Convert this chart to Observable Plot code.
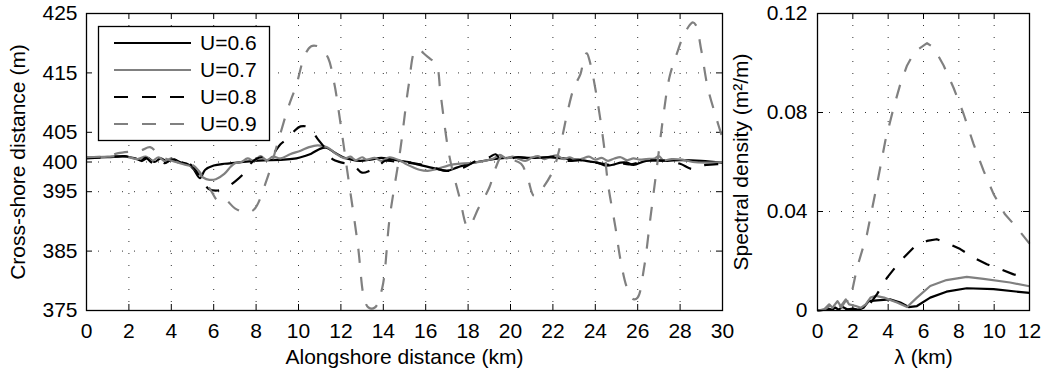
<!DOCTYPE html>
<html><head><meta charset="utf-8">
<script src="https://cdn.jsdelivr.net/npm/d3@7"></script>
<script src="https://cdn.jsdelivr.net/npm/@observablehq/plot@0.6"></script>
<style>
body{margin:0;background:#fff;}
#wrap{position:relative;width:1056px;height:373px;overflow:hidden;}
#wrap svg{position:absolute;top:0;}
</style></head><body><div id="wrap"></div>
<script>
// ---------- Left panel: shoreline position ----------
const seriesNames = ["U=0.6", "U=0.7", "U=0.8", "U=0.9"];
const xTicksLeft = [0,2,4,6,8,10,12,14,16,18,20,22,24,26,28,30];
const yTicksLeft = [375,385,395,400,405,415,425];

const km06 = [0,1,1.8,2.3,2.6,2.9,3.2,3.5,3.8,4.1,4.4,4.8,5.05,5.35,5.6,6.0,6.5,7.1,7.9,8.7,9.6,9.9,10.3,10.6,11.0,11.3,11.7,12.1,12.5,12.9,13.4,13.9,14.3,14.8,15.2,15.6,16.2,16.6,17.0,17.5,17.95,18.9,19.5,20.2,21.0,21.7,22.2,22.7,23.2,23.7,24.1,24.5,24.9,25.2,25.5,25.8,26.4,27.4,28.0,29.0,30];
const pos06 = [400.7,400.8,400.9,400.6,400.2,400.7,400.0,400.6,400.1,400.5,400.0,399.6,398.8,397.3,398.7,399.4,399.7,399.9,400.2,400.3,400.5,400.6,401.0,401.4,402.2,402.4,401.6,400.8,400.4,400.2,400.4,400.7,400.5,400.2,400.0,399.6,399.1,398.8,398.5,399.1,399.6,400.3,400.6,400.8,400.7,400.8,400.7,400.5,400.4,400.1,399.9,399.4,399.6,399.9,399.9,399.5,400.2,400.2,400.3,400.2,399.9];

const km07 = [0,1,1.5,2.0,2.4,2.8,3.1,3.4,3.7,4.0,4.3,4.7,5.0,5.2,5.5,5.8,6.1,6.5,6.8,7.0,7.3,7.6,7.9,8.2,8.5,8.8,9.15,9.6,10.1,10.5,10.9,11.35,11.8,12.2,12.45,12.7,13.0,13.2,13.6,13.9,14.3,14.8,15.1,15.4,15.7,16.1,16.5,17.3,18.3,19.2,19.5,19.8,20.1,20.4,20.7,21.0,21.3,21.6,21.9,22.2,22.5,22.8,23.1,23.4,23.7,24.0,24.3,24.6,24.9,25.2,25.5,25.8,26.1,26.4,26.8,27.0,27.2,27.6,28.1,28.6,29.2,30];
const pos07 = [400.8,400.9,401.0,400.8,400.5,400.9,400.2,400.8,400.1,400.6,399.9,399.5,399.2,398.4,397.4,397.0,397.1,398.0,399.2,399.8,400.0,400.6,400.2,401.0,400.3,400.9,400.6,401.3,401.9,402.5,402.8,402.5,401.3,400.6,400.9,400.3,400.8,400.4,400.7,400.2,400.8,400.2,399.6,399.1,398.7,398.5,398.8,399.6,399.9,400.6,401.2,400.6,400.9,400.5,400.2,400.7,401.0,400.5,400.9,401.1,400.5,400.8,400.3,400.6,400.9,400.4,400.7,400.2,400.6,400.8,400.3,400.6,400.4,400.5,400.6,401.0,400.3,400.5,400.4,400.0,399.9,400.0];

const km08 = [0,1,1.8,2.2,2.5,2.8,3.1,3.4,3.7,4.0,4.4,4.8,5.05,5.45,5.8,6.2,6.6,7.0,7.4,7.65,8.05,8.3,8.7,9.15,9.55,9.8,10.1,10.5,10.9,11.35,11.6,12.05,12.6,13.0,13.4,13.7,14.1,14.5,15.1,15.75,16.4,17.0,17.8,18.4,19.0,19.3,19.6,20.3,21.0,21.7,22.2,22.7,23.3,24.0,24.5,24.9,25.3,25.7,26.4,27.4,28.0,28.6,29.0,29.6,30];
const pos08 = [400.6,400.8,401.0,400.6,400.0,400.7,399.9,400.5,399.8,400.4,400.1,399.8,399.1,396.8,395.4,395.2,395.7,396.7,398.0,399.4,400.6,400.8,401.0,403.0,404.1,405.2,406.0,405.8,403.9,401.9,400.5,399.9,399.4,398.2,398.6,399.1,400.2,400.1,399.9,399.6,399.0,398.5,399.1,400.2,400.8,401.3,400.2,400.8,400.6,400.8,400.9,400.2,400.3,399.9,399.6,399.4,399.7,399.6,400.2,400.2,399.7,398.8,399.4,399.6,399.7];

const km09 = [0,1,1.5,2.2,2.6,3.0,3.5,4.2,5.0,5.3,5.9,6.2,6.5,7.0,7.5,7.9,8.5,9.0,9.5,9.9,10.3,10.6,10.9,11.1,11.4,11.7,11.9,12.3,12.8,13.1,13.3,13.6,13.95,14.3,14.8,15.2,15.5,15.7,15.9,16.2,16.5,16.7,17.1,17.6,18.0,18.5,19.0,19.3,19.6,20.0,20.5,20.8,21.1,21.3,21.5,22.0,22.4,22.7,23.0,23.3,23.5,23.6,23.75,24.1,24.4,24.6,24.95,25.2,25.5,25.8,26.0,26.3,26.6,26.9,27.2,27.5,27.9,28.2,28.6,28.75,29.0,29.3,29.7,30];
const pos09 = [400.8,401.0,401.5,401.8,402.0,402.5,401.0,400.0,399.5,398.5,395.0,393.5,393.8,392.2,391.5,392.0,397.0,403.0,409.0,413.0,418.0,419.5,419.5,419.0,417.5,413.0,408.5,398.5,386.0,377.0,375.5,375.5,378.8,390.6,402.0,413.0,418.8,419.0,418.3,417.4,416.5,411.5,401.3,394.0,389.0,392.3,395.7,399.0,401.0,400.5,399.7,397.4,394.3,394.6,395.5,398.5,403.6,408.6,412.6,414.8,417.9,418.3,416.8,410.3,403.0,396.3,389.0,383.3,378.8,376.9,377.2,382.2,390.6,399.0,407.5,414.3,418.8,421.6,423.5,423.0,418.8,412.6,407.5,404.0];

// ---------- Right panel: spectra ----------
const xTicksRight = [0,2,4,6,8,10,12];
const yTicksRight = [0,0.04,0.08,0.12];

const lam06 = [0,0.3,0.6,0.8,1.0,1.2,1.4,1.7,2.0,2.3,2.6,2.9,3.37,4.1,4.69,5.16,5.63,6.38,7.3,8.45,9.97,12];
const spec06 = [0,0.0002,0.0008,0.0002,0.0012,0.0003,0.0015,0.0004,0.0006,0.0002,0.0011,0.0038,0.0041,0.0045,0.0032,0.0014,0.0018,0.0052,0.0076,0.0090,0.0086,0.0071];

const lam07 = [0,0.38,0.66,0.85,1.13,1.32,1.6,1.79,2.17,2.45,2.73,3.0,3.3,3.77,4.5,5.07,5.63,6.38,7.3,8.45,9.4,10.9,12];
const spec07 = [0,0.0005,0.0025,0.0011,0.0038,0.0018,0.0045,0.0025,0.0018,0.0011,0.0025,0.0052,0.0059,0.0052,0.0032,0.0014,0.0052,0.0099,0.0123,0.0136,0.0128,0.0113,0.0098];

const lam08 = [0,0.5,1.0,1.5,2.0,2.3,2.6,3.0,3.37,3.94,4.69,5.44,6.2,6.75,7.3,8.08,8.83,9.59,10.34,11.1,12];
const spec08 = [0,0.0003,0.0006,0.0002,0.0008,0.0003,0.0005,0.0030,0.0066,0.0133,0.0200,0.0254,0.0281,0.0288,0.0274,0.0248,0.0214,0.0187,0.0167,0.0146,0.0131];

const lam09 = [0,0.4,0.7,0.9,1.15,1.35,1.6,1.8,1.96,2.24,2.8,3.37,3.84,4.31,4.69,5.07,5.54,5.75,6.2,6.57,7.14,7.7,8.27,8.83,9.4,9.97,10.6,11.28,12];
const spec09 = [0,0.0004,0.0020,0.0008,0.0030,0.0012,0.0040,0.0035,0.0079,0.0173,0.0308,0.0510,0.0686,0.0820,0.0915,0.0990,0.1050,0.1058,0.1080,0.1063,0.0990,0.0900,0.0794,0.0673,0.0565,0.0470,0.0390,0.0335,0.0270];

// ---------- styling ----------
const FONT = "'Liberation Sans', Arial, Helvetica, sans-serif";
const FS = 21;
const GRAY = "#808080";
const DASH = "14,14";
const LW = 2.2;
const seriesStyle = [
  {stroke: "#000", dash: null},
  {stroke: GRAY, dash: null},
  {stroke: "#000", dash: DASH},
  {stroke: GRAY, dash: DASH}
];

function rows(xs, ys) { return xs.map((x, i) => ({x, y: ys[i]})); }

const leftSeries = [rows(km06, pos06), rows(km07, pos07), rows(km08, pos08), rows(km09, pos09)];
const rightSeries = [rows(lam06, spec06), rows(lam07, spec07), rows(lam08, spec08), rows(lam09, spec09)];

function frameMarks(xTicks, yTicks, innerW, innerH, tick) {
  return [
    Plot.gridX(xTicks, {stroke: "#333", strokeOpacity: 1, strokeWidth: 1, strokeDasharray: "1,11"}),
    Plot.gridY(yTicks, {stroke: "#333", strokeOpacity: 1, strokeWidth: 1, strokeDasharray: "1,11"}),
    Plot.ruleX(xTicks, {stroke: "#000", strokeWidth: 1, insetTop: innerH - tick}),
    Plot.ruleX(xTicks, {stroke: "#000", strokeWidth: 1, insetBottom: innerH - tick}),
    Plot.ruleY(yTicks, {stroke: "#000", strokeWidth: 1, insetRight: innerW - tick}),
    Plot.ruleY(yTicks, {stroke: "#000", strokeWidth: 1, insetLeft: innerW - tick})
  ];
}

function lineMarks(series, curve) {
  return series.map((d, i) => Plot.line(d, {
    x: "x", y: "y", stroke: seriesStyle[i].stroke, strokeWidth: LW,
    strokeDasharray: seriesStyle[i].dash, curve, strokeLinejoin: "round", strokeLinecap: "butt"
  }));
}

const H = 373, MT = 13, MB = 63;
const innerH = H - MT - MB;

const leftW = 740, leftML = 86, leftMR = 18;
const left = Plot.plot({
  width: leftW, height: H, marginLeft: leftML, marginRight: leftMR, marginTop: MT, marginBottom: MB,
  style: {fontFamily: FONT, fontSize: FS + "px", color: "#000", background: "transparent", overflow: "visible"},
  x: {domain: [0, 30]},
  y: {domain: [375, 425]},
  marks: [
    ...frameMarks(xTicksLeft, yTicksLeft, leftW - leftML - leftMR, innerH, 6),
    ...lineMarks(leftSeries, "catmull-rom"),
    Plot.frame({stroke: "#000", strokeWidth: 1.3}),
    Plot.axisX(xTicksLeft, {tickSize: 0, tickPadding: 13, label: "Alongshore distance (km)", labelAnchor: "center", labelOffset: 53, labelArrow: "none"}),
    Plot.axisY(yTicksLeft, {tickSize: 0, tickPadding: 9, label: "Cross-shore distance (m)", labelAnchor: "center", labelOffset: 76, labelArrow: "none"})
  ]
});
left.style.left = "0px";

const rightLeft = 700, rightW = 356, rightML = 117, rightMR = 27;
const right = Plot.plot({
  width: rightW, height: H, marginLeft: rightML, marginRight: rightMR, marginTop: MT, marginBottom: MB,
  style: {fontFamily: FONT, fontSize: FS + "px", color: "#000", background: "transparent", overflow: "visible"},
  x: {domain: [0, 12]},
  y: {domain: [0, 0.12]},
  marks: [
    ...frameMarks(xTicksRight, yTicksRight, rightW - rightML - rightMR, innerH, 6),
    ...lineMarks(rightSeries, "linear"),
    Plot.frame({stroke: "#000", strokeWidth: 1.3}),
    Plot.axisX(xTicksRight, {tickSize: 0, tickPadding: 13, label: "λ (km)", labelAnchor: "center", labelOffset: 53, labelArrow: "none"}),
    Plot.axisY(yTicksRight, {tickSize: 0, tickPadding: 10, tickFormat: d => d === 0 ? "0" : d.toFixed(2), label: "Spectral density (m²/m)", labelAnchor: "center", labelOffset: 84, labelArrow: "none"})
  ]
});
right.style.left = rightLeft + "px";

const wrap = document.getElementById("wrap");
wrap.appendChild(left);
wrap.appendChild(right);

// ---------- legend (inside the left axes) ----------
const leg = d3.create("svg").attr("width", 1056).attr("height", H)
  .style("left", "0px").style("pointer-events", "none");
leg.append("rect").attr("x", 98.5).attr("y", 26.5).attr("width", 171).attr("height", 114)
  .attr("fill", "#fff").attr("stroke", "#000").attr("stroke-width", 1.3);
const rowY = [43, 70, 97, 124];
seriesNames.forEach((name, i) => {
  leg.append("line").attr("x1", 114).attr("x2", 191).attr("y1", rowY[i]).attr("y2", rowY[i])
    .attr("stroke", seriesStyle[i].stroke).attr("stroke-width", LW)
    .attr("stroke-dasharray", seriesStyle[i].dash);
  leg.append("text").attr("x", 200).attr("y", rowY[i]).attr("dy", "0.35em")
    .attr("font-family", FONT).attr("font-size", FS).attr("fill", "#000").text(name);
});
wrap.appendChild(leg.node());
</script></body></html>
